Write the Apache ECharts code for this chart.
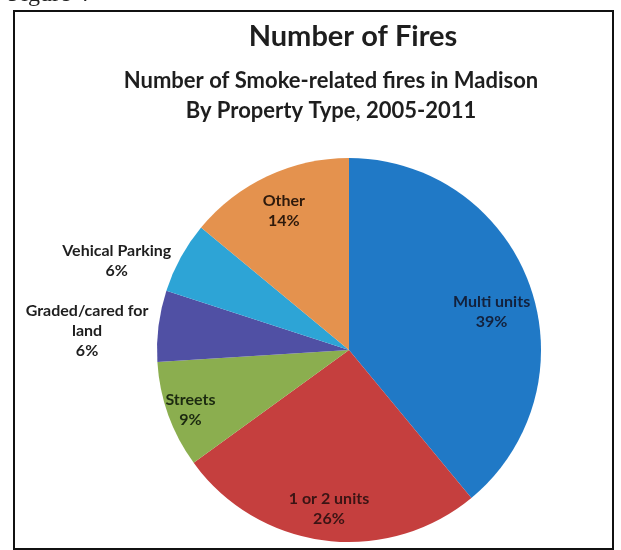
<!DOCTYPE html>
<html>
<head>
<meta charset="utf-8">
<script src="https://cdn.jsdelivr.net/npm/echarts@6/dist/echarts.min.js"></script>
<style>
html,body{margin:0;padding:0;background:#fff;}
#chart{width:621px;height:550px;}
</style>
</head>
<body>
<div id="chart"></div>
<script>
const categories = ['Multi units', '1 or 2 units', 'Streets', 'Graded/cared for land', 'Vehical Parking', 'Other'];
const percentValues = [39, 26, 9, 6, 6, 14];
const sliceColors = ['#2079C6', '#C53F3E', '#8BAE4F', '#5050A4', '#2DA4D6', '#E4924E'];
const outsideLabels = ['Graded/cared for land', 'Vehical Parking'];
const labelColors = {'Multi units': '#13213c', '1 or 2 units': '#3a1414', 'Streets': '#1c2a10', 'Other': '#2e1a0c'};
const titleText = 'Number of Fires';
const subtitleLines = ['Number of Smoke-related fires in Madison', 'By Property Type, 2005-2011'];

const FONT = 'Lato, "Noto Sans", sans-serif';
const LABEL_SIZE = 16;
const CX = 349, CY = 350, R = 192;
// small label nudges to mimic the original best-fit placement
const labelNudge = {'Multi units': [-8, 16], 'Streets': [-8, 6], 'Other': [3, 6]};

const measureCtx = document.createElement('canvas').getContext('2d');
measureCtx.font = 'bold ' + LABEL_SIZE + 'px ' + FONT;

function wrapWords(text, maxChars) {
  const words = text.split(' ');
  const lines = [];
  let cur = '';
  words.forEach(w => {
    const t = cur ? cur + ' ' + w : w;
    if (t.length > maxChars && cur) { lines.push(cur); cur = w; } else { cur = t; }
  });
  if (cur) lines.push(cur);
  return lines;
}

const chart = echarts.init(document.getElementById('chart'), null, {renderer: 'canvas'});

const mainData = categories.map((c, i) => {
  const isOut = outsideLabels.indexOf(c) >= 0;
  const item = {name: c, value: percentValues[i], itemStyle: {color: sliceColors[i]}, label: {show: isOut}};
  if (isOut) {
    const lines = wrapWords(c, 16).concat([percentValues[i] + '%']);
    const w = Math.ceil(Math.max.apply(null, lines.map(l => measureCtx.measureText(l).width))) + 2;
    item.label = {
      show: true,
      formatter: lines.map(l => '{c|' + l + '}').join('\n'),
      rich: {c: {width: w, align: 'center', fontFamily: FONT, fontWeight: 'bold', fontSize: LABEL_SIZE, lineHeight: 20, color: '#1e1e1e'}}
    };
  }
  return item;
});
const overlayData = categories.map((c, i) => {
  const isOut = outsideLabels.indexOf(c) >= 0;
  return {name: c, value: percentValues[i], label: {show: !isOut, color: labelColors[c] || '#222'}};
});

chart.setOption({
  backgroundColor: '#ffffff',
  animation: false,
  title: [
    {
      text: titleText,
      left: 348,
      top: 17,
      textAlign: 'center',
      textStyle: {fontFamily: FONT, fontWeight: 'bold', fontSize: 29, color: '#1e1e1e'}
    },
    {
      text: subtitleLines.join('\n'),
      left: 326,
      top: 61,
      textAlign: 'center',
      textStyle: {fontFamily: FONT, fontWeight: 'bold', fontSize: 22, lineHeight: 30, color: '#1e1e1e'}
    }
  ],
  graphic: [
    {type: 'rect', shape: {x: 14, y: 11, width: 599, height: 538}, style: {fill: 'none', stroke: '#111', lineWidth: 2}, z: 100},
    {type: 'text', left: 8, top: -17, style: {text: 'Figure 4', font: '24px "Liberation Serif", serif', fill: '#222'}}
  ],
  series: [
    {
      type: 'pie',
      center: [CX, CY],
      radius: [0, R],
      startAngle: 90,
      clockwise: true,
      avoidLabelOverlap: false,
      label: {position: 'outside'},
      labelLine: {show: false, length: 4, length2: 0},
      labelLayout: {dy: 5},
      itemStyle: {borderWidth: 0},
      emphasis: {disabled: true},
      data: mainData
    },
    {
      type: 'pie',
      center: [CX, CY],
      radius: [122, R],
      startAngle: 90,
      clockwise: true,
      silent: true,
      itemStyle: {color: 'rgba(0,0,0,0)', borderWidth: 0},
      label: {
        show: true,
        position: 'inside',
        formatter: p => p.name + '\n' + p.value + '%',
        fontFamily: FONT,
        fontWeight: 'bold',
        fontSize: LABEL_SIZE,
        lineHeight: 20
      },
      labelLayout: p => {
        const n = labelNudge[categories[p.dataIndex]];
        return n ? {dx: n[0], dy: n[1]} : {};
      },
      labelLine: {show: false},
      emphasis: {disabled: true},
      data: overlayData,
      z: 3
    }
  ]
});
</script>
</body>
</html>
